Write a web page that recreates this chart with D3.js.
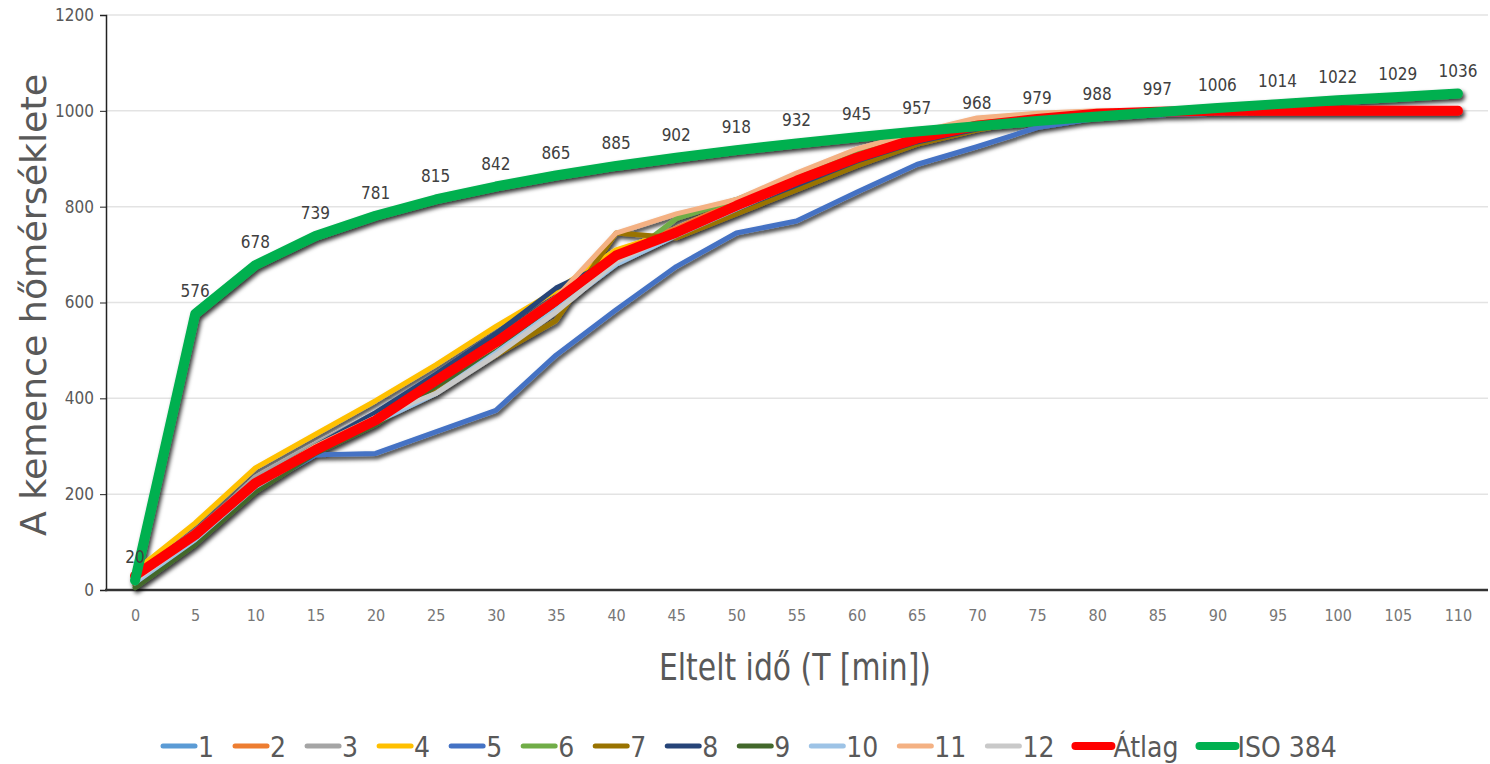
<!DOCTYPE html>
<html>
<head>
<meta charset="utf-8">
<script src="https://cdn.jsdelivr.net/npm/d3@7"></script>
<style>
  body { margin: 0; background: #fff; }
  text { font-family: "Liberation Sans Narrow", "DejaVu Sans Condensed", "Open Sans", sans-serif; }
</style>
</head>
<body>
<div id="canvas"></div>
<script>
const width = 1490;
const height = 764;

// data
const times = [0,5,10,15,20,25,30,35,40,45,50,55,60,65,70,75,80,85,90,95,100,105,110];
const yTicks = [0,200,400,600,800,1000,1200];

const s1  = [10,100,215,290,355,430,505,590,690,740,795,850,900,940,965,985,993,997,999,1000,1000];
const s2  = [30,120,230,300,365,440,520,610,705,755,810,860,910,950,975,990,998,1000,1000,1000,1000];
const s3  = [20,115,235,305,370,445,520,600,700,750,800,850,900,940,965,985,995,998,1000,1000,1000];
const s4  = [40,140,255,325,395,470,550,625,710,750,790,840,890,935,965,985,995,998,1000,1000,1000];
const s5  = [10,100,210,282,285,330,375,490,585,675,745,770,830,888,925,965,985,992,995,997,998];
const s6  = [20,110,225,300,365,440,515,595,680,775,815,865,910,945,970,988,997,1000,1000,1000,1000];
const s7  = [10,105,215,290,350,420,490,562,745,735,785,835,885,930,960,982,993,997,999,1000,1000];
const s8  = [15,110,225,300,370,450,535,630,690,745,795,845,895,935,962,982,992,996,998,999,1000];
const s9  = [5,95,205,285,345,425,500,590,685,740,795,850,900,940,965,985,995,998,999,1000,1000];
const s10 = [15,105,215,290,350,410,495,585,680,740,795,850,900,940,967,985,995,998,1000,1000,1000];
const s11 = [25,115,225,300,360,435,510,610,745,785,815,870,920,955,985,995,1000,1000,1000,1000,1000];
const s12 = [20,110,220,295,360,410,490,580,685,745,800,850,900,940,965,985,995,998,1000,1000,1000];
const atlag = [30,115,223,292,354,437,517,604,698,746,802,854,902,942,969,983,994,998,1000,1000,1000,1000,1000];
const iso384 = [20,576,678,739,781,815,842,865,885,902,918,932,945,957,968,979,988,997,1006,1014,1022,1029,1036];

const seriesNames = ['1','2','3','4','5','6','7','8','9','10','11','12','Átlag','ISO 384'];
const seriesValues = [s1,s2,s3,s4,s5,s6,s7,s8,s9,s10,s11,s12,atlag,iso384];
const colors = ['#5B9BD5','#ED7D31','#A5A5A5','#FFC000','#4472C4','#70AD47','#997300','#264478','#43682B','#9DC3E6','#F4B183','#C9C9C9','#FF0000','#00B050'];

const series = seriesNames.map((name, i) => ({
  name: name,
  color: colors[i],
  thick: i >= 12,
  values: seriesValues[i].map((v, j) => ({t: times[j], v: v}))
}));

const svg = d3.select('#canvas').append('svg')
  .attr('width', width)
  .attr('height', height);

const defs = svg.append('defs');
defs.append('filter').attr('id', 'shadow')
  .attr('x', '-5%').attr('y', '-5%').attr('width', '110%').attr('height', '120%')
  .append('feDropShadow')
  .attr('dx', 2).attr('dy', 3).attr('stdDeviation', 2.2)
  .attr('flood-color', '#000').attr('flood-opacity', 0.8);

const xScale = d3.scalePoint().domain(times).range([105, 1488]).padding(0.5);
const yScale = d3.scaleLinear().domain([0, 1200]).range([590, 15]);

// grid
svg.append('g')
  .selectAll('line')
  .data(yTicks.filter(d => d > 0))
  .join('line')
  .attr('x1', 106).attr('x2', 1488)
  .attr('y1', d => yScale(d)).attr('y2', d => yScale(d))
  .attr('stroke', '#E3E3E3').attr('stroke-width', 1.5);

// y axis
const yAxis = d3.axisLeft(yScale).tickValues(yTicks).tickFormat(d3.format('d')).tickSize(6).tickPadding(6);
const gy = svg.append('g').attr('transform', 'translate(106,0)').call(yAxis);
gy.select('.domain').attr('stroke', '#222').attr('stroke-width', 1.5);
gy.selectAll('.tick line').attr('stroke', '#222');
gy.selectAll('.tick text').attr('fill', '#595959').style('font-size', '17px');

// x axis
const xAxis = d3.axisBottom(xScale).tickSize(0).tickPadding(20);
const gx = svg.append('g').attr('transform', 'translate(0,590)').call(xAxis);
gx.select('.domain').attr('d', 'M105,0H1488').attr('stroke', '#333').attr('stroke-width', 2.5);
gx.selectAll('.tick text').attr('fill', '#767676').style('font-size', '16px');

// lines
const line = d3.line()
  .x(d => xScale(d.t))
  .y(d => yScale(d.v));

svg.append('g').attr('filter', 'url(#shadow)')
  .selectAll('path')
  .data(series)
  .join('path')
  .attr('d', d => line(d.values))
  .attr('fill', 'none')
  .attr('stroke', d => d.color)
  .attr('stroke-width', d => d.thick ? 10 : 5)
  .attr('stroke-linejoin', 'round')
  .attr('stroke-linecap', 'round');

// ISO labels
svg.append('g')
  .selectAll('text')
  .data(series[13].values)
  .join('text')
  .attr('x', d => xScale(d.t))
  .attr('y', d => yScale(d.v) - 17)
  .attr('text-anchor', 'middle')
  .attr('fill', '#404040')
  .style('font-size', '17px')
  .text(d => d.v);

// axis titles
svg.append('text')
  .attr('x', 795).attr('y', 680)
  .attr('text-anchor', 'middle')
  .attr('fill', '#595959')
  .style('font-size', '38px')
  .attr('textLength', 272).attr('lengthAdjust', 'spacingAndGlyphs')
  .text('Eltelt idő (T [min])');

svg.append('text')
  .attr('transform', 'translate(46,305) rotate(-90)')
  .attr('text-anchor', 'middle')
  .attr('fill', '#595959')
  .style('font-size', '36px')
  .attr('textLength', 462).attr('lengthAdjust', 'spacingAndGlyphs')
  .text('A kemence hőmérséklete');

// legend
const legend = svg.append('g').attr('transform', 'translate(0,746)');
let lx = 163;
series.forEach(s => {
  const g = legend.append('g');
  g.append('line')
    .attr('x1', lx).attr('x2', lx + (s.thick ? 36 : 32))
    .attr('y1', 0).attr('y2', 0)
    .attr('stroke', s.color)
    .attr('stroke-width', s.thick ? 8 : 5)
    .attr('stroke-linecap', 'round');
  const t = g.append('text')
    .attr('x', lx + (s.thick ? 38 : 35)).attr('y', 11)
    .attr('fill', '#595959')
    .style('font-size', '28px')
    .text(s.name);
  lx += (s.thick ? 38 : 35) + t.node().getComputedTextLength() + 21;
});
</script>
</body>
</html>
